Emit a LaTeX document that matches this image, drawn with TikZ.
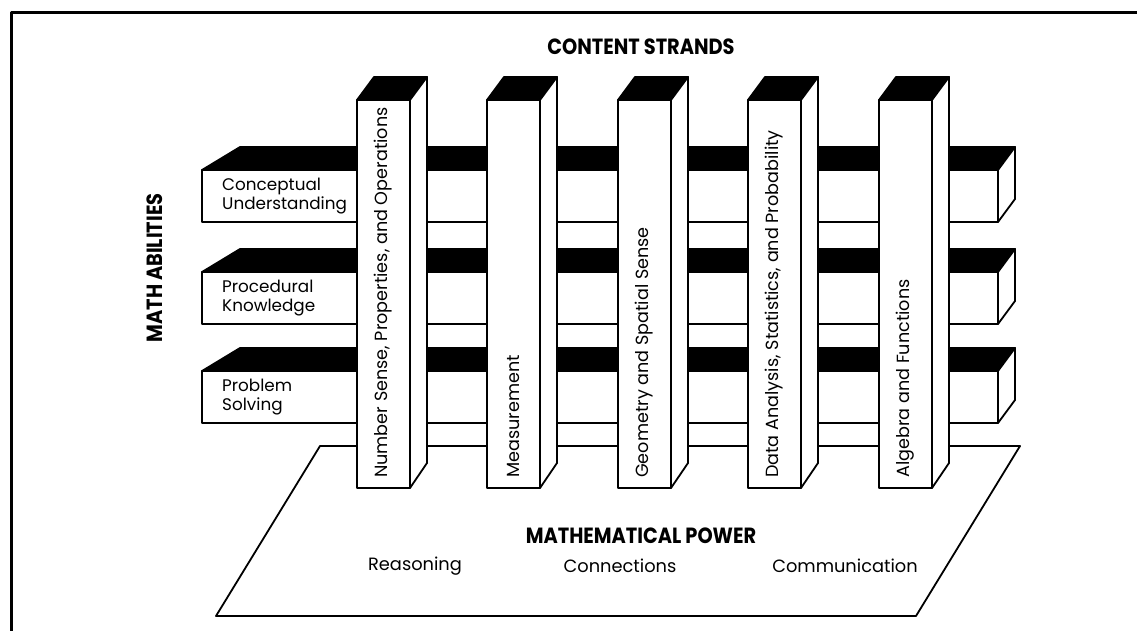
\documentclass[tikz,border=0pt]{standalone}
\usepackage{fontspec}
\setmainfont{Poppins}
\newfontfamily\headfont{Poppins}[FakeStretch=0.88]
\begin{document}
\begin{tikzpicture}[x=1pt, y=-1pt, line join=round,
    face/.style={draw, line width=1.8pt, fill=white},
    topface/.style={draw, line width=1.8pt, fill=black},
    abilitytext/.style={font=\fontsize{16.8}{19}\selectfont, inner sep=0pt, align=left, anchor=west},
    strandtext/.style={font=\fontsize{17.6}{19}\selectfont, inner sep=0pt, rotate=90, anchor=west},
    powertext/.style={font=\fontsize{17.8}{20}\selectfont, inner sep=0pt},
    heading/.style={font=\headfont\bfseries\fontsize{22}{24}\selectfont, inner sep=0pt}]
    \useasboundingbox (0,0) rectangle (1137,631);

    % Frame
    \draw[line width=3pt] (11,631) -- (11,13) -- (1137,13);

    % Platform
    \draw[line width=1.8pt] (320,446) -- (1020,446) -- (916,616) -- (216,616) -- cycle;

    % Bars (math abilities)
    \foreach \y/\txt in {170/{Conceptual\\Understanding}, 272/{Procedural\\Knowledge}, 371/{Problem\\Solving}} {
        \draw[topface] (202,\y) -- (240,\y-23) -- (1015,\y-23) -- (998,\y) -- cycle;
        \draw[face] (202,\y) rectangle (998,\y+52);
        \draw[face] (998,\y) -- (1015,\y-23) -- (1015,\y+29) -- (998,\y+52) -- cycle;
        \node[abilitytext] (ab\y) at (222,\y+26) {\txt};
    }

    % Columns (content strands)
    \foreach \x/\txt in {357/{Number Sense, Properties, and Operations}, 487/{Measurement},
            618/{Geometry and Spatial Sense}, 748/{Data Analysis, Statistics, and Probability},
            879/{Algebra and Functions}} {
        \draw[topface] (\x,100) -- (\x+17,77) -- (\x+70,77) -- (\x+53,100) -- cycle;
        \draw[face] (\x,100) rectangle (\x+53,488);
        \draw[face] (\x+53,100) -- (\x+70,77) -- (\x+70,463) -- (\x+53,488) -- cycle;
        \node[strandtext] (st\x) at (\x+26.5,478) {\txt};
    }

    % Headings
    \node[heading] (strands) at (641,47) {CONTENT STRANDS};
    \node[heading, rotate=90] (abilities) at (155,268) {MATH ABILITIES};
    \node[heading] (power) at (641,536) {MATHEMATICAL POWER};

    % Power labels
    \node[powertext] (reasoning) at (415,566) {Reasoning};
    \node[powertext] (connections) at (620,566) {Connections};
    \node[powertext] (communication) at (845,566) {Communication};
\end{tikzpicture}
\end{document}
